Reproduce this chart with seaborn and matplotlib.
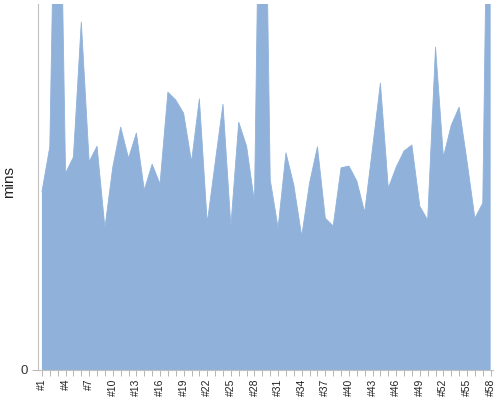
import numpy as np
import pandas as pd
import matplotlib
matplotlib.use('Agg')
import matplotlib.pyplot as plt
import seaborn as sns

# session numbers and durations (mins)
sessions = list(range(1, 59))
mins = [29.7, 37.2, 111.7, 32.8, 35.5, 58.0, 34.7, 37.3, 23.7, 33.8,
        40.5, 35.3, 39.5, 30.0, 34.3, 31.0, 46.3, 45.0, 42.8, 34.7,
        45.2, 24.5, 34.5, 44.3, 24.0, 41.3, 37.3, 28.0, 121.7, 31.7,
        23.7, 36.2, 30.8, 22.3, 31.2, 37.2, 25.3, 24.0, 33.7, 34.0,
        31.5, 26.3, 37.0, 47.8, 30.3, 33.8, 36.5, 37.5, 27.3, 25.0,
        53.8, 35.5, 40.8, 43.8, 34.8, 25.3, 27.8, 123.7]
tick_labels = ['#%d' % s for s in sessions]

df = pd.DataFrame({'idx': np.arange(len(sessions)), 'mins': mins})

sns.set_style('white')
plt.rcParams['font.family'] = ['Liberation Sans', 'DejaVu Sans']

fig = plt.figure(figsize=(5, 4), dpi=100)
ax = fig.add_axes([0.076, 0.075, 0.91, 0.915])

fill = '#90b2da'
sns.lineplot(data=df, x='idx', y='mins', color=fill, linewidth=0.6, ax=ax)
ax.fill_between(df['idx'], 0, df['mins'], color=fill, linewidth=0)

ax.set_xlim(-0.5, 57.3)
ax.set_ylim(0, 61)

ax.set_xticks(df['idx'][::3])
ax.set_xticklabels(tick_labels[::3], rotation=90, fontsize=7.5, color='#222222')
ax.set_xticks(df['idx'], minor=True)
ax.tick_params(axis='x', which='both', direction='out', length=4, width=0.6,
               color='#aaaaaa', bottom=True, pad=2)
ax.set_yticks([0])
ax.set_yticklabels(['0'], fontsize=9.5, color='#333333')
ax.tick_params(axis='y', direction='out', length=4, width=0.6, color='#aaaaaa', left=True, pad=3)

for s in ['top', 'right']:
    ax.spines[s].set_visible(False)
for s in ['left', 'bottom']:
    ax.spines[s].set_color('#c0c0c0')
    ax.spines[s].set_linewidth(0.8)

ax.set_xlabel('')
ax.set_ylabel('mins', fontsize=11, color='#222222')
ax.yaxis.set_label_coords(-0.048, 0.514)

fig.savefig('out.png', dpi=100)
